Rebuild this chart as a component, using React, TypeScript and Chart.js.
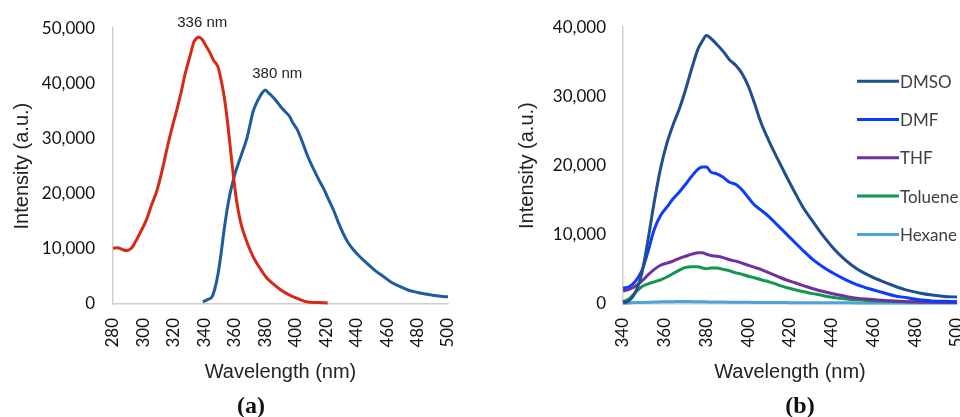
import React, { useEffect, useRef } from "react";
import { Chart, registerables } from "chart.js";

Chart.register(...registerables);

// ---------- Panel (a) data ----------
const excWavelength = [280, 283, 286, 289, 292, 295, 298, 302, 305, 309, 312, 315, 318, 322, 325, 327, 329, 331, 333, 335, 336, 337, 339, 341, 343, 346, 349, 351, 353, 355, 358, 361, 364, 368, 372, 376, 381, 385, 390, 396, 402, 407, 414, 421];
const excIntensity = [10100, 10200, 9900, 9700, 10100, 11400, 13000, 15300, 17700, 20700, 23900, 27600, 31100, 35300, 38700, 41300, 43400, 45400, 47400, 48200, 48400, 48300, 47800, 46800, 45900, 44200, 42900, 40600, 37600, 33500, 25900, 19000, 14600, 11200, 8600, 6700, 4700, 3700, 2600, 1600, 900, 400, 250, 200];

const emWavelength = [339, 342, 345, 347, 349, 351, 353, 355, 357, 360, 363, 366, 368, 370, 372, 374, 376, 378, 380, 382, 384, 387, 390, 393, 396, 398, 401, 405, 408, 412, 415, 418, 421, 425, 428, 431, 434, 438, 442, 447, 452, 458, 463, 469, 474, 480, 485, 490, 495, 500];
const emIntensity = [400, 800, 1300, 2900, 5500, 9200, 13500, 17200, 20200, 23500, 26000, 28400, 30100, 32500, 34900, 36300, 37400, 38300, 38800, 38300, 37800, 36900, 35800, 34900, 34000, 32900, 31600, 28900, 26700, 24300, 22600, 21100, 19300, 16900, 14800, 12900, 11300, 9800, 8600, 7300, 6100, 4900, 3900, 3100, 2500, 2100, 1800, 1600, 1400, 1300];

const peakWavelengths = [336, 380];
const peakValues = [48400, 38800];
const peakLabels = ["336 nm", "380 nm"];

// ---------- Panel (b) data ----------
const solventWavelength = [340, 343, 346, 349, 352, 355, 358, 361, 364, 367, 370, 373, 376, 378, 380, 382, 385, 388, 391, 394, 397, 400, 403, 406, 410, 414, 418, 422, 426, 431, 436, 441, 446, 452, 458, 464, 470, 476, 482, 488, 494, 500];
const dmsoValues = [200, 500, 1700, 4400, 9300, 14800, 19600, 23200, 25900, 28200, 31000, 34100, 36900, 38000, 38800, 38400, 37500, 36500, 35300, 34500, 33300, 31500, 29000, 26300, 23500, 21000, 18600, 16300, 14100, 11900, 9800, 8000, 6500, 5100, 4100, 3300, 2600, 2000, 1600, 1300, 1100, 1000];
const dmfValues = [2300, 2500, 3300, 4800, 7600, 10800, 12800, 14000, 15200, 16200, 17300, 18500, 19500, 19800, 19800, 19100, 18800, 18300, 17600, 17300, 16500, 15400, 14300, 13600, 12600, 11400, 10200, 9000, 7800, 6400, 5300, 4400, 3600, 2800, 2200, 1700, 1200, 900, 600, 450, 380, 340];
const thfValues = [1900, 2100, 2600, 3300, 4200, 5000, 5600, 5900, 6200, 6600, 6900, 7200, 7400, 7400, 7200, 7000, 6900, 6700, 6400, 6200, 5900, 5600, 5300, 5000, 4500, 4000, 3500, 3100, 2700, 2200, 1800, 1450, 1150, 850, 680, 530, 420, 340, 280, 240, 210, 200];
const tolueneValues = [340, 750, 1700, 2500, 2900, 3200, 3500, 3900, 4400, 4900, 5300, 5400, 5400, 5200, 5100, 5200, 5200, 5000, 4800, 4500, 4300, 4000, 3800, 3500, 3200, 2800, 2400, 2100, 1800, 1500, 1200, 950, 750, 600, 480, 420, 370, 340, 330, 320, 320, 320];
const hexaneValues = [100, 150, 200, 230, 260, 290, 310, 330, 340, 350, 350, 340, 330, 320, 310, 300, 290, 280, 270, 260, 250, 240, 230, 220, 210, 200, 200, 190, 190, 180, 180, 170, 170, 160, 160, 160, 150, 150, 150, 150, 150, 150];

const solventNames = ["DMSO", "DMF", "THF", "Toluene", "Hexane"];
const solventColors = ["#1f4f8f", "#0b3cff", "#7030a0", "#139650", "#4fa3dc"];
const solventSeries = [dmsoValues, dmfValues, thfValues, tolueneValues, hexaneValues];

const yTicksA = [0, 10000, 20000, 30000, 40000, 50000];
const yTicksB = [0, 10000, 20000, 30000, 40000];

const toPoints = (xs: number[], ys: number[]) => xs.map((x, i) => ({ x, y: ys[i] }));
const fmt = (v: number) => Number(v).toLocaleString("en-US");

const TICK_FONT = { family: "Lato, 'Open Sans', sans-serif", size: 17 };
const TITLE_FONT = { family: "'Liberation Sans', Arial, sans-serif", size: 20 };

function axes(xmin: number, xmax: number, yTicks: number[], yWidth: number, yTickPad: number, yTitlePad: number) {
  return {
    x: {
      type: "linear" as const,
      min: xmin,
      max: xmax,
      afterFit: (s: any) => { s.height = 80; s.paddingRight = 0; s.paddingLeft = 0; },
      grid: { display: false, drawTicks: false },
      border: { display: true, color: "#cfcfcf", width: 1.5 },
      ticks: {
        stepSize: 20,
        autoSkip: false,
        minRotation: 90,
        maxRotation: 90,
        padding: 14,
        color: "#111",
        font: TICK_FONT,
        callback: (v: any) => String(v),
      },
      title: { display: true, text: "Wavelength (nm)", color: "#222", font: TITLE_FONT, padding: { top: 0, bottom: 0 } },
    },
    y: {
      type: "linear" as const,
      min: yTicks[0],
      max: yTicks[yTicks.length - 1],
      afterFit: (s: any) => { s.width = yWidth; },
      afterBuildTicks: (s: any) => { s.ticks = yTicks.map((v) => ({ value: v })); },
      grid: { display: false, drawTicks: false },
      border: { display: true, color: "#cfcfcf", width: 1.5 },
      ticks: { padding: yTickPad, color: "#111", font: TICK_FONT, callback: (v: any) => fmt(v) },
      title: { display: true, text: "Intensity (a.u.)", color: "#222", font: TITLE_FONT, padding: { top: yTitlePad, bottom: 0 } },
    },
  };
}

const peakLabelPlugin = {
  id: "peakLabels",
  afterDatasetsDraw(chart: any) {
    const { ctx, scales } = chart;
    const dx = [4, 12];
    const dy = [14, 16];
    ctx.save();
    ctx.font = "15px 'Liberation Sans', Arial, sans-serif";
    ctx.fillStyle = "#222";
    ctx.textAlign = "center";
    ctx.textBaseline = "middle";
    peakLabels.forEach((t, i) => {
      const x = scales.x.getPixelForValue(peakWavelengths[i]) + dx[i];
      const y = scales.y.getPixelForValue(peakValues[i]) - dy[i];
      ctx.fillText(t, x, y);
    });
    ctx.restore();
  },
};

const legendPlugin = {
  id: "customLegend",
  afterDatasetsDraw(chart: any) {
    const { ctx, chartArea } = chart;
    const x0 = chartArea.right - 100;
    ctx.save();
    ctx.font = "17px Lato, 'Open Sans', sans-serif";
    ctx.textBaseline = "middle";
    ctx.textAlign = "left";
    chart.data.datasets.forEach((ds: any, i: number) => {
      const y = chartArea.top + 54 + i * 38.3;
      ctx.strokeStyle = ds.borderColor;
      ctx.lineWidth = 3;
      ctx.beginPath();
      ctx.moveTo(x0, y);
      ctx.lineTo(x0 + 42, y);
      ctx.stroke();
      ctx.fillStyle = "#404040";
      ctx.fillText(ds.label, x0 + 43, y + 1);
    });
    ctx.restore();
  },
};

const lineStyle = { pointRadius: 0, borderWidth: 3, tension: 0.4, cubicInterpolationMode: "monotone" as const, fill: false, clip: false as any };

export default function App() {
  const refA = useRef<HTMLCanvasElement>(null);
  const refB = useRef<HTMLCanvasElement>(null);

  useEffect(() => {
    const chartA = new Chart(refA.current!, {
      type: "line",
      data: {
        datasets: [
          { label: "Excitation", data: toPoints(excWavelength, excIntensity), borderColor: "#d42a16", ...lineStyle },
          { label: "Emission", data: toPoints(emWavelength, emIntensity), borderColor: "#1f5b9e", ...lineStyle },
        ],
      },
      options: {
        responsive: false,
        animation: false,
        layout: { padding: { left: 0, top: 26, right: 42, bottom: 33 } },
        plugins: { legend: { display: false }, tooltip: { enabled: false } },
        scales: axes(280, 500, yTicksA, 113, 18, 10) as any,
      },
      plugins: [peakLabelPlugin],
    });

    const chartB = new Chart(refB.current!, {
      type: "line",
      data: {
        datasets: solventNames.map((n, i) => ({
          label: n,
          data: toPoints(solventWavelength, solventSeries[i]),
          borderColor: solventColors[i],
          ...lineStyle,
        })),
      },
      options: {
        responsive: false,
        animation: false,
        layout: { padding: { left: 35, top: 26, right: 63, bottom: 33 } },
        plugins: { legend: { display: false }, tooltip: { enabled: false } },
        scales: axes(340, 500, yTicksB, 108, 17, 0) as any,
      },
      plugins: [legendPlugin],
    });

    return () => {
      chartA.destroy();
      chartB.destroy();
    };
  }, []);

  const panelLabel: React.CSSProperties = {
    position: "absolute",
    top: 391,
    width: 60,
    textAlign: "center",
    fontFamily: "'Liberation Serif', 'DejaVu Serif', serif",
    fontWeight: "bold",
    fontSize: 24,
    lineHeight: "28px",
    color: "#111",
  };

  return (
    <div style={{ position: "fixed", left: 0, top: 0, width: 960, height: 417, overflow: "hidden", background: "#fff" }}>
      <canvas ref={refA} width={490} height={417} style={{ position: "absolute", left: 0, top: 0 }} />
      <canvas ref={refB} width={540} height={417} style={{ position: "absolute", left: 480, top: 0 }} />
      <div style={{ ...panelLabel, left: 221 }}>(a)</div>
      <div style={{ ...panelLabel, left: 770 }}>(b)</div>
    </div>
  );
}
